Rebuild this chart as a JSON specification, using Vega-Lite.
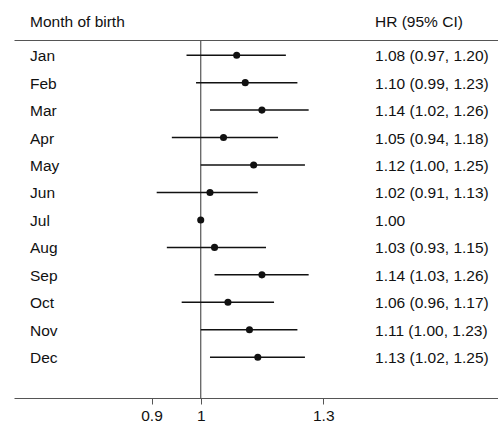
{
  "$schema": "https://vega.github.io/schema/vega-lite/v6.json",
  "padding": {"left": 14, "right": 0, "top": 0, "bottom": 0},
  "spacing": 0,
  "config": {
    "view": {"stroke": null},
    "font": "Liberation Sans",
    "axis": {"grid": false, "title": null, "domainColor": "#555", "tickColor": "#555", "labelFont": "Liberation Sans", "labelFontSize": 15.5, "labelColor": "#111"}
  },
  "datasets": {
    "hr": [
      {"month": "Jan", "hr": 1.08, "lo": 0.97, "hi": 1.20, "label": "1.08 (0.97, 1.20)"},
      {"month": "Feb", "hr": 1.10, "lo": 0.99, "hi": 1.23, "label": "1.10 (0.99, 1.23)"},
      {"month": "Mar", "hr": 1.14, "lo": 1.02, "hi": 1.26, "label": "1.14 (1.02, 1.26)"},
      {"month": "Apr", "hr": 1.05, "lo": 0.94, "hi": 1.18, "label": "1.05 (0.94, 1.18)"},
      {"month": "May", "hr": 1.12, "lo": 1.00, "hi": 1.25, "label": "1.12 (1.00, 1.25)"},
      {"month": "Jun", "hr": 1.02, "lo": 0.91, "hi": 1.13, "label": "1.02 (0.91, 1.13)"},
      {"month": "Jul", "hr": 1.00, "lo": null, "hi": null, "label": "1.00"},
      {"month": "Aug", "hr": 1.03, "lo": 0.93, "hi": 1.15, "label": "1.03 (0.93, 1.15)"},
      {"month": "Sep", "hr": 1.14, "lo": 1.03, "hi": 1.26, "label": "1.14 (1.03, 1.26)"},
      {"month": "Oct", "hr": 1.06, "lo": 0.96, "hi": 1.17, "label": "1.06 (0.96, 1.17)"},
      {"month": "Nov", "hr": 1.11, "lo": 1.00, "hi": 1.23, "label": "1.11 (1.00, 1.23)"},
      {"month": "Dec", "hr": 1.13, "lo": 1.02, "hi": 1.25, "label": "1.13 (1.02, 1.25)"}
    ],
    "headLeft": [{"text": "Month of birth"}],
    "headRight": [{"text": "HR (95% CI)"}],
    "ref": [{"ref": 1}]
  },
  "vconcat": [
    {
      "width": 484,
      "height": 40,
      "layer": [
        {
          "data": {"name": "headLeft"},
          "mark": {"type": "text", "align": "left", "baseline": "middle", "dy": 1.5, "fontSize": 15.5, "color": "#111"},
          "encoding": {
            "x": {"datum": 0.6938, "type": "quantitative", "scale": {"type": "log", "domain": [0.6704, 1.89], "nice": false, "zero": false},
              "axis": {"orient": "bottom", "labels": false, "ticks": false, "domain": true, "title": null}},
            "text": {"field": "text"}
          }
        },
        {
          "data": {"name": "headRight"},
          "mark": {"type": "text", "align": "left", "baseline": "middle", "dy": 1.5, "fontSize": 15.5, "color": "#111"},
          "encoding": {
            "x": {"datum": 1.4524, "type": "quantitative"},
            "text": {"field": "text"}
          }
        }
      ]
    },
    {
      "width": 484,
      "height": 357,
      "layer": [
        {
          "data": {"name": "ref"},
          "mark": {"type": "rule", "color": "#555", "strokeWidth": 1.2},
          "encoding": {
            "x": {"field": "ref", "type": "quantitative", "scale": {"type": "log", "domain": [0.6704, 1.89], "nice": false, "zero": false},
              "axis": {"orient": "bottom", "values": [0.9, 1, 1.3], "format": "~g", "tickSize": 6, "labelPadding": 4, "title": null}}
          }
        },
        {
          "data": {"name": "hr"},
          "transform": [{"filter": "datum.lo != null"}],
          "mark": {"type": "rule", "color": "#111", "strokeWidth": 1.5},
          "encoding": {
            "x": {"field": "lo", "type": "quantitative"},
            "x2": {"field": "hi"},
            "y": {"field": "month", "type": "ordinal",
              "scale": {"type": "point", "domain": ["Jan","Feb","Mar","Apr","May","Jun","Jul","Aug","Sep","Oct","Nov","Dec"], "padding": 1.365, "align": 0.258},
              "axis": null}
          }
        },
        {
          "data": {"name": "hr"},
          "mark": {"type": "circle", "color": "#111", "opacity": 1, "size": 50},
          "encoding": {
            "x": {"field": "hr", "type": "quantitative"},
            "y": {"field": "month", "type": "ordinal"}
          }
        },
        {
          "data": {"name": "hr"},
          "mark": {"type": "text", "align": "left", "baseline": "middle", "dy": 1, "fontSize": 15.5, "color": "#111"},
          "encoding": {
            "x": {"datum": 0.6938, "type": "quantitative"},
            "y": {"field": "month", "type": "ordinal"},
            "text": {"field": "month"}
          }
        },
        {
          "data": {"name": "hr"},
          "mark": {"type": "text", "align": "left", "baseline": "middle", "dy": 1, "fontSize": 15.5, "color": "#111"},
          "encoding": {
            "x": {"datum": 1.4524, "type": "quantitative"},
            "y": {"field": "month", "type": "ordinal"},
            "text": {"field": "label"}
          }
        }
      ]
    }
  ]
}
